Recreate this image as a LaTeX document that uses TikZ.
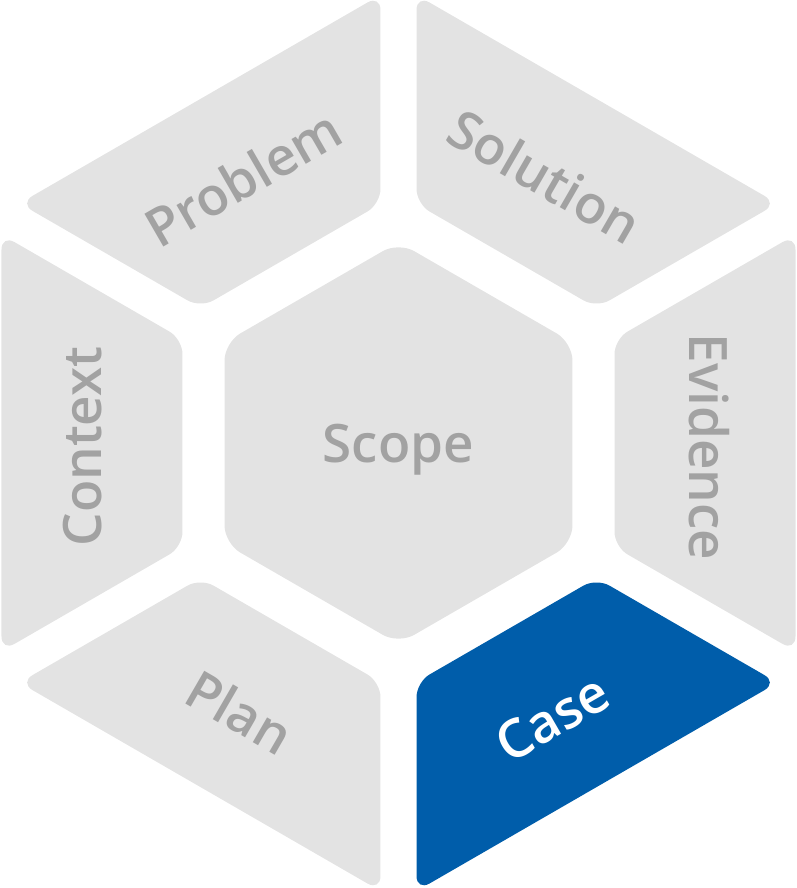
\documentclass[tikz,border=0pt]{standalone}
\usepackage{fontspec}
\setmainfont{Open Sans}[BoldFont={Open Sans Semibold}]

\definecolor{tilegray}{HTML}{E3E3E3}
\definecolor{labelgray}{HTML}{A2A2A2}
\definecolor{caseblue}{HTML}{005DAA}

\tikzset{
    tile/.style={rounded corners=15pt},
    tilelabel/.style={font=\fontsize{53}{53}\selectfont\bfseries, text=labelgray, inner sep=0pt},
}

\begin{document}
\begin{tikzpicture}[x=1pt, y=1pt]
    \useasboundingbox (-398.5,-445) rectangle (397.5,443);

    % inner and outer apothem of the ring, half of the sides of one tile
    \def\ai{216}
    \def\ao{397}
    \def\yi{103.9}
    \def\yo{208.4}

    % ring of six tiles
    \foreach \ang/\col in {0/tilegray, 60/tilegray, 120/tilegray, 180/tilegray, 240/tilegray, 300/caseblue}
        \fill[tile, fill=\col, rotate=\ang] (\ai,-\yi) -- (\ao,-\yo) -- (\ao,\yo) -- (\ai,\yi) -- cycle;

    % centre hexagon
    \fill[tile, fill=tilegray, rounded corners=18pt] (30:200.9) \foreach \a in {90,150,...,330} { -- (\a:200.9) } -- cycle;

    \node[tilelabel] (scope) at (0,-7) {Scope};
    \node[tilelabel, rotate=30] (problem) at (-155.5,265) {Problem};
    \node[tilelabel, rotate=-30] (solution) at (146.5,267) {Solution};
    \node[tilelabel, rotate=90] (context) at (-316,-3.5) {Context};
    \node[tilelabel, rotate=-90] (evidence) at (310.5,-4) {Evidence};
    \node[tilelabel, rotate=-30] (plan) at (-158.5,-269) {Plan};
    \node[tilelabel, rotate=30, text=white] (case) at (154,-275) {Case};
\end{tikzpicture}
\end{document}
